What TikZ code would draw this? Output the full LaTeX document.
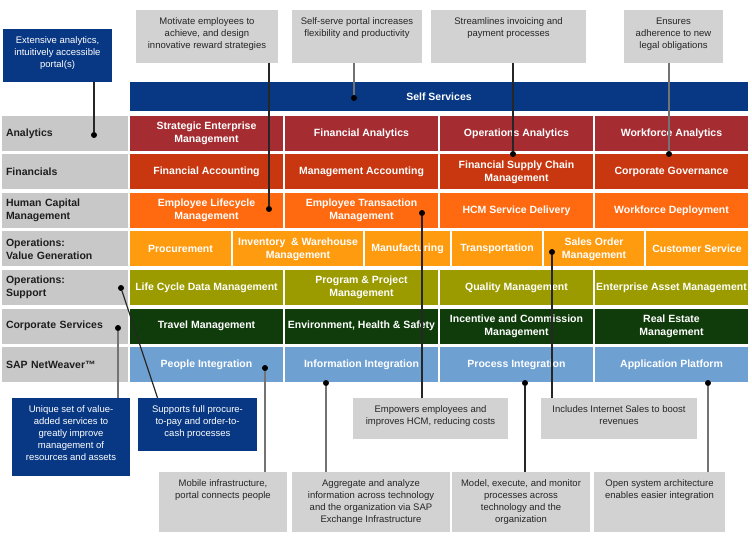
\documentclass[tikz,border=0pt]{standalone}
\usepackage{fontspec}
\setmainfont{Liberation Sans}
\usetikzlibrary{positioning}
\definecolor{sapblue}{RGB}{8,56,132}
\definecolor{anared}{RGB}{165,45,50}
\definecolor{finred}{RGB}{200,55,15}
\definecolor{hcmorange}{RGB}{255,105,15}
\definecolor{valorange}{RGB}{255,155,15}
\definecolor{supolive}{RGB}{155,155,0}
\definecolor{corpgreen}{RGB}{15,60,10}
\definecolor{nwblue}{RGB}{110,160,210}
\definecolor{labgray}{RGB}{200,200,200}
\definecolor{boxgray}{RGB}{210,210,210}
\definecolor{labtext}{RGB}{30,30,30}
\tikzset{
	cell/.style={minimum width=153pt, minimum height=35pt, inner sep=0pt, align=center, text=white, font=\fontsize{10.5}{13}\selectfont\bfseries},
	lab/.style={fill=labgray, minimum width=126pt, minimum height=35pt, text width=118pt, inner sep=4pt, align=left, text=labtext, font=\fontsize{10.5}{13}\selectfont\bfseries},
	gbox/.style={fill=boxgray, inner sep=0pt},
	bbox/.style={fill=sapblue, inner sep=0pt},
	gtxt/.style={align=center, inner sep=0pt, text=black!85, font=\fontsize{9.5}{12}\selectfont},
	btxt/.style={gtxt, text=white},
	dot/.style={circle, fill=black, inner sep=0pt, minimum size=6pt},
	link/.style={line width=1.2pt, black!85},
	glink/.style={line width=1.2pt, black!55},
}

\begin{document}
\begin{tikzpicture}[x=1pt, y=-1pt]
		%%%%% FRAME %%%%%
		\fill[white] (0, 0) rectangle (752, 537);
		\useasboundingbox (0, 0) rectangle (752, 537);
		
		%%%%% ROW LABELS %%%%%
		\node[lab] (l-ana) at (65, 133.5) {Analytics};
		\node[lab] (l-fin) at (65, 172) {Financials};
		\node[lab] (l-hcm) at (65, 210.5) {Human Capital\\Management};
		\node[lab] (l-val) at (65, 249) {Operations:\\Value Generation};
		\node[lab] (l-sup) at (65, 287.5) {Operations:\\Support};
		\node[lab] (l-cor) at (65, 326) {Corporate Services};
		\node[lab] (l-nw) at (65, 364.5) {SAP NetWeaver™};
		
		%%%%% GRID %%%%%
		\node[cell, fill=sapblue, minimum width=618pt, minimum height=29pt] (self) at (439, 96.5) {Self Services};
		
		\node[cell, fill=anared] (sem) at (206.5, 133.5) {Strategic Enterprise\\Management};
		\node[cell, fill=anared] (fan) at (361.5, 133.5) {Financial Analytics};
		\node[cell, fill=anared] (oan) at (516.5, 133.5) {Operations Analytics};
		\node[cell, fill=anared] (wan) at (671.5, 133.5) {Workforce Analytics};
		
		\node[cell, fill=finred] (fac) at (206.5, 172) {Financial Accounting};
		\node[cell, fill=finred] (mac) at (361.5, 172) {Management Accounting};
		\node[cell, fill=finred] (fsc) at (516.5, 172) {Financial Supply Chain\\Management};
		\node[cell, fill=finred] (cgv) at (671.5, 172) {Corporate Governance};
		
		\node[cell, fill=hcmorange] (elm) at (206.5, 210.5) {Employee Lifecycle\\Management};
		\node[cell, fill=hcmorange] (etm) at (361.5, 210.5) {Employee Transaction\\Management};
		\node[cell, fill=hcmorange] (hsd) at (516.5, 210.5) {HCM Service Delivery};
		\node[cell, fill=hcmorange] (wfd) at (671.5, 210.5) {Workforce Deployment};
		
		\node[cell, fill=valorange, minimum width=101pt] (pro) at (180.5, 249) {Procurement};
		\node[cell, fill=valorange, minimum width=130pt] (inv) at (298, 249) {Inventory \ \& Warehouse\\Management};
		\node[cell, fill=valorange, minimum width=85pt] (man) at (407.5, 249) {Manufacturing};
		\node[cell, fill=valorange, minimum width=90pt] (tra) at (497, 249) {Transportation};
		\node[cell, fill=valorange, minimum width=100pt] (som) at (594, 249) {Sales Order\\Management};
		\node[cell, fill=valorange, minimum width=102pt] (cse) at (697, 249) {Customer Service};
		
		\node[cell, fill=supolive] (lcd) at (206.5, 287.5) {Life Cycle Data Management};
		\node[cell, fill=supolive] (ppm) at (361.5, 287.5) {Program \& Project\\Management};
		\node[cell, fill=supolive] (qma) at (516.5, 287.5) {Quality Management};
		\node[cell, fill=supolive] (eam) at (671.5, 287.5) {Enterprise Asset Management};
		
		\node[cell, fill=corpgreen] (tma) at (206.5, 326) {Travel Management};
		\node[cell, fill=corpgreen] (ehs) at (361.5, 326) {Environment, Health \& Safety};
		\node[cell, fill=corpgreen] (icm) at (516.5, 326) {Incentive and Commission\\Management};
		\node[cell, fill=corpgreen] (rem) at (671.5, 326) {Real Estate\\Management};
		
		\node[cell, fill=nwblue] (pin) at (206.5, 364.5) {People Integration};
		\node[cell, fill=nwblue] (iin) at (361.5, 364.5) {Information Integration};
		\node[cell, fill=nwblue] (prin) at (516.5, 364.5) {Process Integration};
		\node[cell, fill=nwblue] (apl) at (671.5, 364.5) {Application Platform};
		
		%%%%% CALLOUTS TOP %%%%%
		\node[bbox, minimum width=109pt, minimum height=53pt] (ext) at (57.5, 55.5) {};
		\node[btxt, below=8pt of ext.north] (ext-t) {Extensive analytics,\\intuitively accessible\\portal(s)};
		\node[gbox, minimum width=142pt, minimum height=53pt] (mot) at (207, 36.5) {};
		\node[gtxt, below=8pt of mot.north] (mot-t) {Motivate employees to\\achieve, and design\\innovative reward strategies};
		\node[gbox, minimum width=130pt, minimum height=53pt] (ssp) at (357, 36.5) {};
		\node[gtxt, below=8pt of ssp.north] (ssp-t) {Self-serve portal increases\\flexibility and productivity};
		\node[gbox, minimum width=155pt, minimum height=53pt] (str) at (508.5, 36.5) {};
		\node[gtxt, below=8pt of str.north] (str-t) {Streamlines invoicing and\\payment processes};
		\node[gbox, minimum width=99pt, minimum height=53pt] (ens) at (673.5, 36.5) {};
		\node[gtxt, below=8pt of ens.north] (ens-t) {Ensures\\adherence to new\\legal obligations};
		
		%%%%% CALLOUTS BOTTOM %%%%%
		\node[bbox, minimum width=118pt, minimum height=78pt] (uni) at (71, 437) {};
		\node[btxt, below=8pt of uni.north] (uni-t) {Unique set of value-\\added services to\\greatly improve\\management of\\resources and assets};
		\node[bbox, minimum width=119pt, minimum height=53pt] (sup) at (197.5, 424.5) {};
		\node[btxt, below=8pt of sup.north] (sup-t) {Supports full procure-\\to-pay and order-to-\\cash processes};
		\node[gbox, minimum width=155pt, minimum height=41pt] (emp) at (430.5, 418.5) {};
		\node[gtxt, below=8pt of emp.north] (emp-t) {Empowers employees and\\improves HCM, reducing costs};
		\node[gbox, minimum width=156pt, minimum height=41pt] (inc) at (619, 418.5) {};
		\node[gtxt, below=8pt of inc.north] (inc-t) {Includes Internet Sales to boost\\revenues};
		\node[gbox, minimum width=128pt, minimum height=60pt] (mob) at (223, 502) {};
		\node[gtxt, below=8pt of mob.north] (mob-t) {Mobile infrastructure,\\portal connects people};
		\node[gbox, minimum width=158pt, minimum height=60pt] (agg) at (371, 502) {};
		\node[gtxt, below=8pt of agg.north] (agg-t) {Aggregate and analyze\\information across technology\\and the organization via SAP\\Exchange Infrastructure};
		\node[gbox, minimum width=138pt, minimum height=60pt] (mod) at (521, 502) {};
		\node[gtxt, below=8pt of mod.north] (mod-t) {Model, execute, and monitor\\processes across\\technology and the\\organization};
		\node[gbox, minimum width=131pt, minimum height=60pt] (opn) at (659.5, 502) {};
		\node[gtxt, below=8pt of opn.north] (opn-t) {Open system architecture\\enables easier integration};
		
		%%%%% DOTS %%%%%
		\node[dot] (d-ext) at (94, 135) {};
		\node[dot] (d-mot) at (269, 209) {};
		\node[dot] (d-ssp) at (354, 98) {};
		\node[dot] (d-str) at (513, 154) {};
		\node[dot] (d-ens) at (669, 154) {};
		\node[dot] (d-uni) at (118, 328) {};
		\node[dot] (d-sup) at (121, 288) {};
		\node[dot] (d-emp) at (422, 213) {};
		\node[dot] (d-inc) at (552, 252) {};
		\node[dot] (d-mob) at (265, 368) {};
		\node[dot] (d-agg) at (326, 383) {};
		\node[dot] (d-mod) at (525, 383) {};
		\node[dot] (d-opn) at (708, 383) {};
		
		%%%%% LINKS %%%%%
		\draw[link] (ext.south -| d-ext) -- (d-ext);
		\draw[link] (mot.south -| d-mot) -- (d-mot);
		\draw[glink] (ssp.south -| d-ssp) -- (d-ssp);
		\draw[link] (str.south -| d-str) -- (d-str);
		\draw[glink] (ens.south -| d-ens) -- (d-ens);
		\draw[glink] (uni.north -| d-uni) -- (d-uni);
		\draw[link] ([xshift=-40pt]sup.north) -- (d-sup);
		\draw[link] (emp.north -| d-emp) -- (d-emp);
		\draw[link] (inc.north -| d-inc) -- (d-inc);
		\draw[glink] (mob.north -| d-mob) -- (d-mob);
		\draw[glink] (agg.north -| d-agg) -- (d-agg);
		\draw[link] (mod.north -| d-mod) -- (d-mod);
		\draw[glink] (opn.north -| d-opn) -- (d-opn);
		
\end{tikzpicture}
\end{document}
